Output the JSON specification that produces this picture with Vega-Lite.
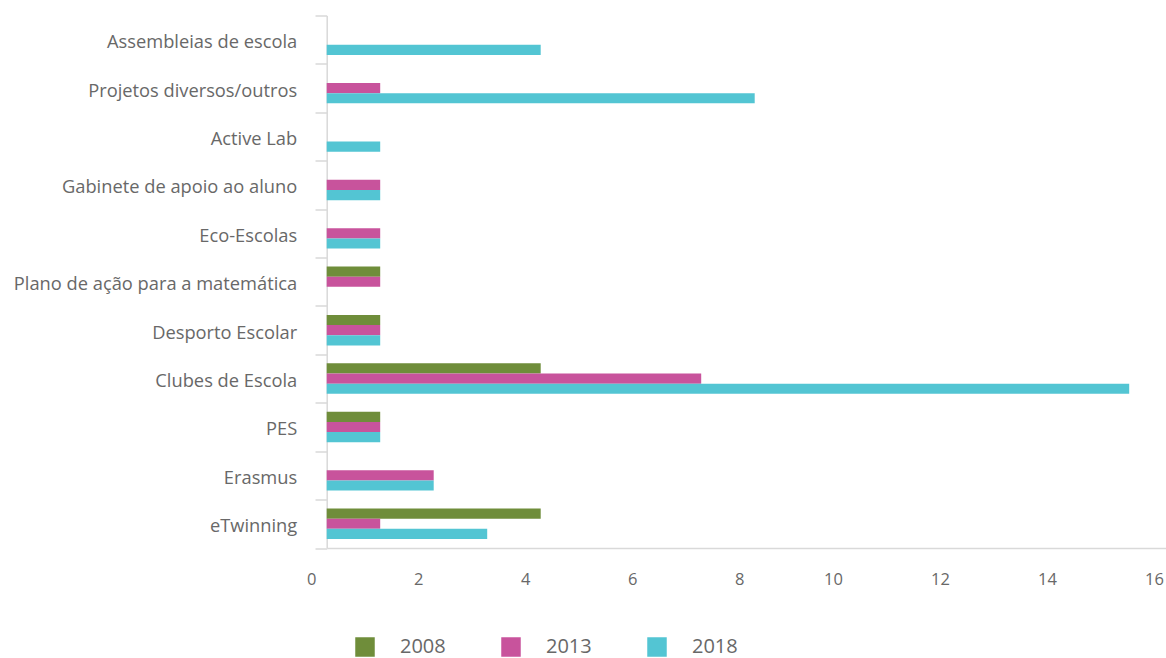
{
  "$schema": "https://vega.github.io/schema/vega-lite/v6.json",
  "width": 856,
  "height": 532.5,
  "autosize": {"type": "none"},
  "padding": {"left": 326.7, "top": 15.5, "right": -16.7, "bottom": 110},
  "background": "white",
  "config": {"view": {"stroke": null}, "font": "Open Sans"},
  "data": {
    "values": [
      {"atividade": "Assembleias de escola", "ano": "2018", "valor": 4},
      {"atividade": "Projetos diversos/outros", "ano": "2013", "valor": 1},
      {"atividade": "Projetos diversos/outros", "ano": "2018", "valor": 8},
      {"atividade": "Active Lab", "ano": "2018", "valor": 1},
      {"atividade": "Gabinete de apoio ao aluno", "ano": "2013", "valor": 1},
      {"atividade": "Gabinete de apoio ao aluno", "ano": "2018", "valor": 1},
      {"atividade": "Eco-Escolas", "ano": "2013", "valor": 1},
      {"atividade": "Eco-Escolas", "ano": "2018", "valor": 1},
      {"atividade": "Plano de ação para a matemática", "ano": "2008", "valor": 1},
      {"atividade": "Plano de ação para a matemática", "ano": "2013", "valor": 1},
      {"atividade": "Desporto Escolar", "ano": "2008", "valor": 1},
      {"atividade": "Desporto Escolar", "ano": "2013", "valor": 1},
      {"atividade": "Desporto Escolar", "ano": "2018", "valor": 1},
      {"atividade": "Clubes de Escola", "ano": "2008", "valor": 4},
      {"atividade": "Clubes de Escola", "ano": "2013", "valor": 7},
      {"atividade": "Clubes de Escola", "ano": "2018", "valor": 15},
      {"atividade": "PES", "ano": "2008", "valor": 1},
      {"atividade": "PES", "ano": "2013", "valor": 1},
      {"atividade": "PES", "ano": "2018", "valor": 1},
      {"atividade": "Erasmus", "ano": "2013", "valor": 2},
      {"atividade": "Erasmus", "ano": "2018", "valor": 2},
      {"atividade": "eTwinning", "ano": "2008", "valor": 4},
      {"atividade": "eTwinning", "ano": "2013", "valor": 1},
      {"atividade": "eTwinning", "ano": "2018", "valor": 3}
    ]
  },
  "mark": {"type": "bar"},
  "encoding": {
    "y": {
      "field": "atividade",
      "type": "nominal",
      "sort": ["Assembleias de escola", "Projetos diversos/outros", "Active Lab", "Gabinete de apoio ao aluno", "Eco-Escolas", "Plano de ação para a matemática", "Desporto Escolar", "Clubes de Escola", "PES", "Erasmus", "eTwinning"],
      "scale": {"paddingInner": 0, "paddingOuter": 0},
      "title": null,
      "axis": {
        "tickBand": "extent",
        "ticks": true,
        "tickSize": 11.7,
        "tickColor": "#D9D9D9",
        "tickWidth": 1.5,
        "domainColor": "#D9D9D9",
        "domainWidth": 1.5,
        "grid": false,
        "labelFont": "Open Sans",
        "labelFontSize": 18.3,
        "labelColor": "#686868",
        "labelPadding": 18.3,
        "labelLimit": 400,
        "labelOffset": 3
      }
    },
    "yOffset": {
      "field": "ano",
      "type": "nominal",
      "scale": {"domain": ["2008", "2013", "2018"], "paddingInner": 0, "paddingOuter": 0.885}
    },
    "x": {
      "field": "valor",
      "type": "quantitative",
      "scale": {"domain": [0, 16], "nice": false, "zero": true},
      "title": null,
      "axis": {
        "values": [0, 2, 4, 6, 8, 10, 12, 14, 16],
        "ticks": false,
        "grid": false,
        "domainColor": "#D9D9D9",
        "domainWidth": 1.5,
        "labelFont": "Open Sans",
        "labelFontSize": 16.5,
        "labelColor": "#686868",
        "labelPadding": 23,
        "labelFlush": false,
        "labelOverlap": false,
        "labelOffset": {"condition": {"test": "datum.value >= 10", "value": -28.7}, "value": -15.6}
      }
    },
    "color": {
      "field": "ano",
      "type": "nominal",
      "scale": {"domain": ["2008", "2013", "2018"], "range": ["#6F8D3A", "#C8539C", "#53C5D3"]},
      "legend": {
        "orient": "none",
        "legendX": 28.3,
        "legendY": 621.5,
        "direction": "horizontal",
        "columns": 3,
        "title": null,
        "symbolType": "square",
        "symbolSize": 380,
        "symbolStrokeWidth": 0,
        "symbolOpacity": 1,
        "labelFont": "Open Sans",
        "labelFontSize": 20,
        "labelColor": "#686868",
        "labelOffset": 25,
        "columnPadding": 55,
        "padding": 0
      }
    }
  }
}
